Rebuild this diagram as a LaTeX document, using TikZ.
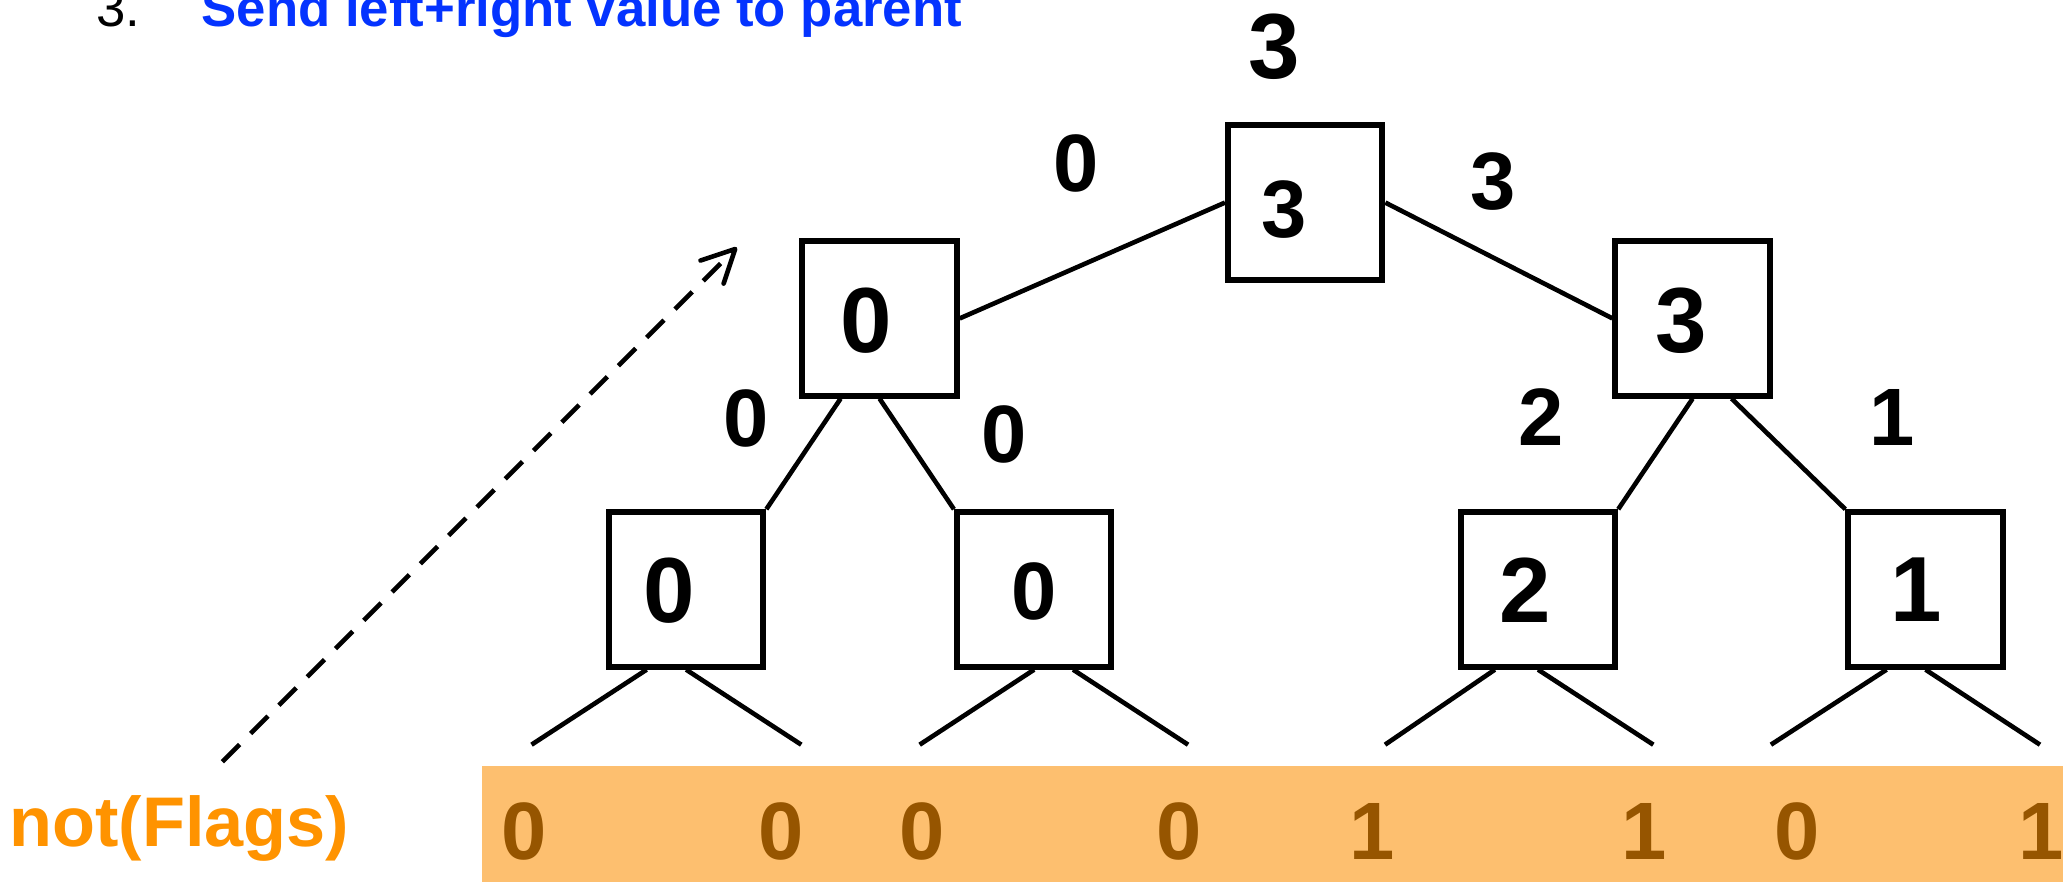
\documentclass[tikz,border=0pt]{standalone}
\usepackage{fontspec}
\setmainfont{Liberation Sans}
\usepackage{xcolor}
\usepackage{tikz}
\usetikzlibrary{arrows.meta}

\definecolor{stepblue}{RGB}{4,51,255}
\definecolor{flagorange}{RGB}{255,147,0}
\definecolor{bandfill}{RGB}{253,191,111}
\definecolor{banddigit}{RGB}{150,85,0}

\begin{document}
\begin{tikzpicture}[x=0.025cm, y=-0.025cm,
        treebox/.style={draw, line width=3.2pt, minimum size=2.935cm, inner sep=0pt},
        boxval/.style={inner sep=0pt, font=\fontsize{50}{60}\selectfont\bfseries},
        sumval/.style={inner sep=0pt, font=\fontsize{44}{53}\selectfont\bfseries},
        flagval/.style={inner sep=0pt, text=banddigit, font=\fontsize{44}{53}\selectfont\bfseries},
        branch/.style={line width=2.5pt}]
        \useasboundingbox (0, 0) rectangle (1568, 670);

        \node[anchor=base west, inner sep=0pt, font=\fontsize{28.5}{34}\selectfont] (stepnum)
            at (73, 20.5) {3.};
        \node[anchor=base west, inner sep=0pt, text=stepblue, font=\fontsize{28.5}{34}\selectfont\bfseries] (steptext)
            at (153, 20.5) {Send left+right value to parent};

        \node[treebox] (root) at (992, 154) {};
        \node[treebox] (left) at (668.5, 242) {};
        \node[treebox] (right) at (1286.5, 242) {};
        \node[treebox] (ll) at (521.5, 448) {};
        \node[treebox] (lr) at (786, 448) {};
        \node[treebox] (rl) at (1169, 448) {};
        \node[treebox] (rr) at (1463.5, 448) {};

        \node[sumval] (rootval) at (976, 159) {3};
        \node[boxval] (leftval) at (658, 244) {0};
        \node[boxval] (rightval) at (1278, 244) {3};
        \node[boxval] (llval) at (508.6, 449) {0};
        \node[sumval] (lrval) at (786, 449.5) {0};
        \node[boxval] (rlval) at (1159, 448.6) {2};
        \node[boxval] (rrval) at (1456.5, 448.5) {1};

        \node[boxval] (rootsum) at (968.5, 35.5) {3};
        \node[sumval] (leftsum) at (818, 124) {0};
        \node[sumval] (rightsum) at (1135, 138) {3};
        \node[sumval] (llsum) at (567, 318) {0};
        \node[sumval] (lrsum) at (763, 330) {0};
        \node[sumval] (rlsum) at (1171, 317) {2};
        \node[sumval] (rrsum) at (1438, 317) {1};

        \draw[branch] (root.west) -- (left.east);
        \draw[branch] (root.east) -- (right.west);
        \draw[branch] ([xshift=-0.74cm]left.south) -- (ll.north east);
        \draw[branch] (left.south) -- (lr.north west);
        \draw[branch] (right.south) -- (rl.north east);
        \draw[branch] ([xshift=0.74cm]right.south) -- (rr.north west);

        \foreach \b/\p/\q/\u/\v in {ll/-0.75/0/404/609, lr/0/0.74/699/903,
                rl/-0.82/0/1052.7/1256.6, rr/-0.74/0/1346/1550.5} {
            \coordinate (\b-a) at (\u, 566);
            \coordinate (\b-b) at (\v, 566);
            \draw[branch] ([xshift=\p cm]\b.south) -- (\b-a);
            \draw[branch] ([xshift=\q cm]\b.south) -- (\b-b);
        }

        \coordinate (flagtail) at (169, 579);
        \coordinate (flaghead) at (560, 188);
        \draw[line width=2.5pt, dash pattern=on 0.465cm off 0.295cm,
            -{Straight Barb[length=0.62cm, width=0.62cm, round]}] (flagtail) -- (flaghead);

        \fill[bandfill] (366, 582) rectangle (1570, 672);
        \node[anchor=base west, inner sep=0pt, text=flagorange, font=\fontsize{38}{46}\selectfont\bfseries] (flaglabel)
            at (7, 643.5) {not(Flags)};
        \foreach \x/\d [count=\i] in {398.5/0, 594/0, 700.5/0, 896/0, 1043/1, 1250/1, 1366/0, 1551/1}
            \node[flagval] (flag\i) at (\x, 632) {\d};
    \end{tikzpicture}
\end{document}
